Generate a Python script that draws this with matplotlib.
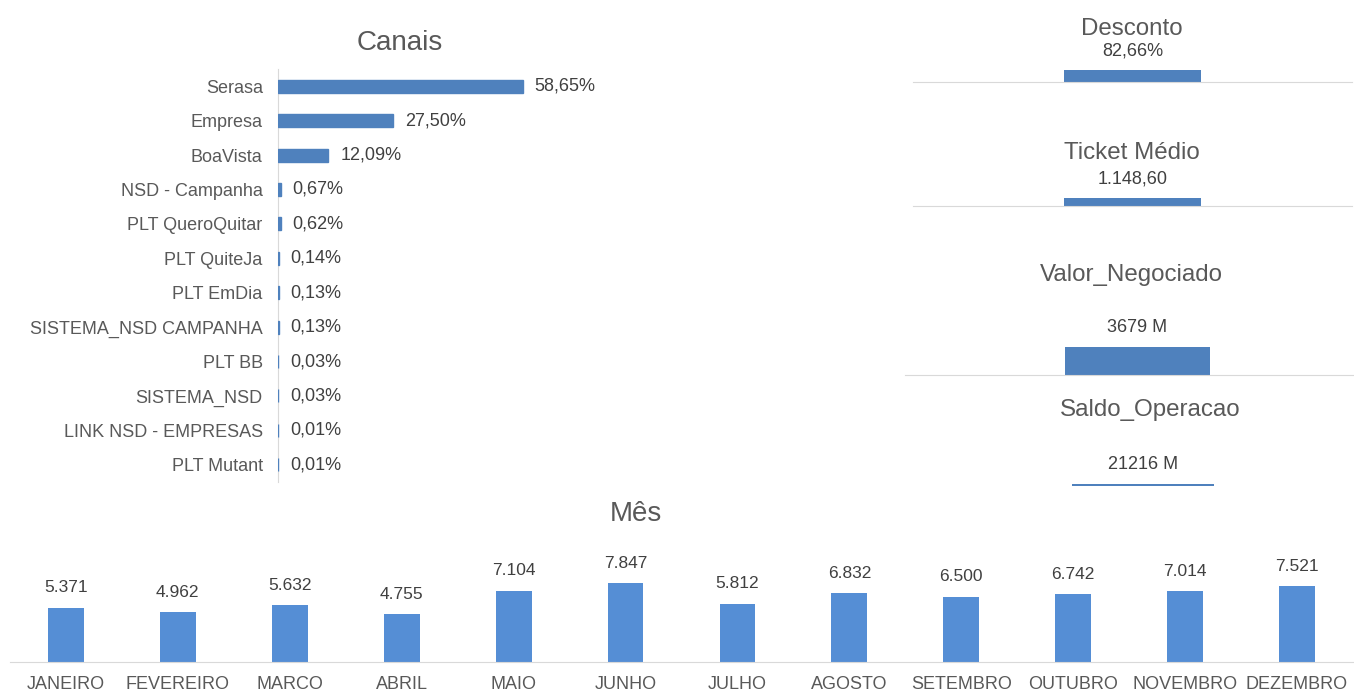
import matplotlib.pyplot as plt

plt.rcParams['font.family'] = ['Liberation Sans', 'DejaVu Sans']

# canais
canais = ["Serasa", "Empresa", "BoaVista", "NSD - Campanha", "PLT QueroQuitar",
          "PLT QuiteJa", "PLT EmDia", "SISTEMA_NSD CAMPANHA", "PLT BB",
          "SISTEMA_NSD", "LINK NSD - EMPRESAS", "PLT Mutant"]
canais_pct = [58.65, 27.50, 12.09, 0.67, 0.62, 0.14, 0.13, 0.13, 0.03, 0.03, 0.01, 0.01]

# meses
meses = ["JANEIRO", "FEVEREIRO", "MARCO", "ABRIL", "MAIO", "JUNHO", "JULHO",
         "AGOSTO", "SETEMBRO", "OUTUBRO", "NOVEMBRO", "DEZEMBRO"]
meses_qtd = [5371, 4962, 5632, 4755, 7104, 7847, 5812, 6832, 6500, 6742, 7014, 7521]

# indicadores
desconto = 82.66
ticket_medio = 1148.60
valor_negociado = 3679   # M
saldo_operacao = 21216   # M

W, H = 1354, 693
TXT = '#595959'
VAL = '#404040'
BLUE = '#4F81BD'
BLUE2 = '#558ED5'
GRID = '#D9D9D9'


def box(x0, y0, x1, y1):
    return [x0 / W, 1 - y1 / H, (x1 - x0) / W, (y1 - y0) / H]


def br(v, dec=2):
    s = f"{v:,.{dec}f}"
    return s.replace(',', 'X').replace('.', ',').replace('X', '.')


fig = plt.figure(figsize=(W / 100, H / 100), dpi=100)

# ---- Canais ----
ax = fig.add_axes(box(278, 69, 620, 482))
pos = list(range(len(canais)))
bars = ax.barh(pos, canais_pct, height=0.38, color=BLUE, edgecolor=BLUE,
               linewidth=1.0, zorder=3)
ax.set_ylim(len(canais) - 0.5, -0.5)
ax.set_xlim(0, 81.9)
ax.set_yticks(pos)
ax.set_yticklabels(canais, fontsize=13, color=TXT)
ax.tick_params(axis='y', length=0, pad=11)
ax.set_xticks([])
for s in ['top', 'right', 'bottom']:
    ax.spines[s].set_visible(False)
ax.spines['left'].set_color(GRID)
ax.bar_label(bars, labels=[br(v) + '%' for v in canais_pct], padding=8.5,
             fontsize=13, color=VAL)
fig.text(400 / W, 1 - 43 / H, "Canais", fontsize=20, color=TXT, ha='center', va='center')

# ---- Indicadores ----
kpis = [
    ("Desconto", desconto, br(desconto) + '%', (913, 62, 1352, 82), 12, 137, 0, True, 1132, 29),
    ("Ticket Médio", ticket_medio, br(ticket_medio), (913, 186, 1352, 206), 8, 137, 0, True, 1132, 153),
    ("Valor_Negociado", valor_negociado, f"{valor_negociado} M", (905, 345, 1354, 375), 28, 145, 8, True, 1131, 275),
    ("Saldo_Operacao", saldo_operacao, f"{saldo_operacao} M", (905, 476, 1354, 486), 2, 142, 13.5, False, 1150, 410),
]
for title, val, lab, (x0, y0, x1, y1), bar_px, bw_px, off_px, base, tx, ty in kpis:
    k = fig.add_axes(box(x0, y0, x1, y1))
    wpx = x1 - x0
    k.bar([0], [val], width=bw_px / wpx, color=BLUE)
    k.set_ylim(0, val * (y1 - y0) / bar_px)
    c = off_px / wpx
    k.set_xlim(-0.5 - c, 0.5 - c)
    k.set_xticks([])
    k.set_yticks([])
    for s in ['top', 'right', 'left']:
        k.spines[s].set_visible(False)
    if base:
        k.spines['bottom'].set_color(GRID)
    else:
        k.spines['bottom'].set_visible(False)
    k.annotate(lab, xy=(0, val), xytext=(0, 13.7), textcoords='offset points',
               ha='center', va='center', fontsize=13, color=VAL, annotation_clip=False)
    fig.text(tx / W, 1 - ty / H, title, fontsize=17.4, color=TXT,
             ha='center', va='center')

# ---- Mês ----
am = fig.add_axes(box(10, 530, 1353, 662))
mb = am.bar(range(len(meses)), meses_qtd, width=0.32, color=BLUE2)
am.set_xlim(-0.5, len(meses) - 0.5)
am.set_ylim(0, 132 * 99.4)
am.set_xticks(range(len(meses)))
am.set_xticklabels(meses, fontsize=13, color=TXT)
am.tick_params(axis='x', length=0, pad=10)
am.set_yticks([])
for s in ['top', 'right', 'left']:
    am.spines[s].set_visible(False)
am.spines['bottom'].set_color(GRID)
for i, v in enumerate(meses_qtd):
    am.annotate(f"{v:,}".replace(',', '.'), xy=(i, v), xytext=(0, 14.4),
                textcoords='offset points', ha='center', va='center',
                fontsize=12.5, color=VAL)
fig.text(636 / W, 1 - 514 / H, "Mês", fontsize=20, color=TXT, ha='center', va='center')

fig.savefig('out.png', dpi=100, facecolor='white')
